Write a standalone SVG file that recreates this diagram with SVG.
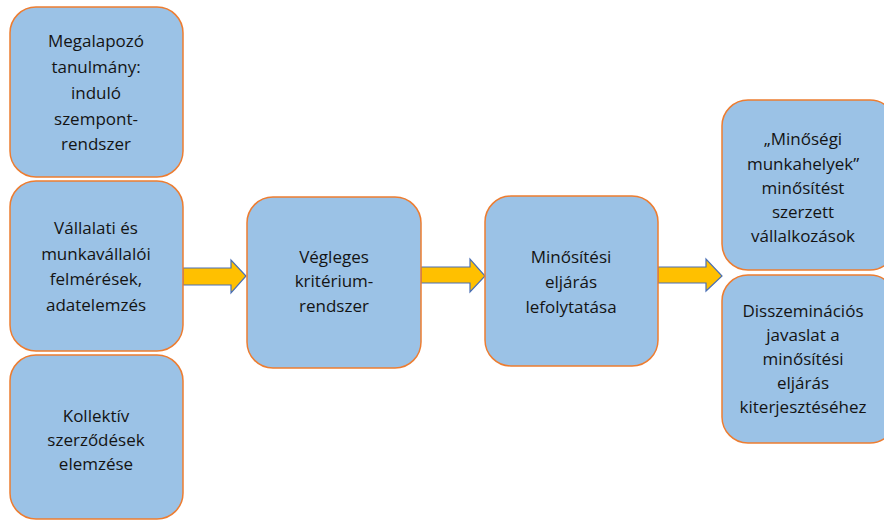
<svg xmlns="http://www.w3.org/2000/svg" width="884" height="521" viewBox="0 0 884 521">
<style>
.box{fill:#9BC2E6;stroke:#ED7D31;stroke-width:1.5}
.arr{fill:#FFC000;stroke:#4A6FB5;stroke-width:1.2;stroke-linejoin:miter}
text{font-family:"Open Sans","Noto Sans",sans-serif;font-size:17px;fill:#141414;text-anchor:middle}
</style>
<rect width="884" height="521" fill="#ffffff"/>
<g id="connectors">
<polygon class="arr" points="183,268 231,268 231,260 246,276 231,293 231,285 183,285"/>
<polygon class="arr" points="421,267 470,267 470,259 485,276 470,292 470,283 421,283"/>
<polygon class="arr" points="658,267 706,267 706,259 722,276 706,291 706,283 658,283"/>
</g>
<g id="n1">
<rect class="box" x="10" y="7" width="173" height="170" rx="26"/>
<text x="96" y="47">Megalapozó</text>
<text x="96" y="73">tanulmány:</text>
<text x="96" y="99">induló</text>
<text x="96" y="125">szempont-</text>
<text x="96" y="150">rendszer</text>
</g>
<g id="n2">
<rect class="box" x="10" y="181" width="173" height="170" rx="26"/>
<text x="96" y="234">Vállalati és</text>
<text x="96" y="260">munkavállalói</text>
<text x="96" y="285">felmérések,</text>
<text x="96" y="311">adatelemzés</text>
</g>
<g id="n3">
<rect class="box" x="10" y="355" width="173" height="164" rx="26"/>
<text x="96" y="422">Kollektív</text>
<text x="96" y="446">szerződések</text>
<text x="96" y="470">elemzése</text>
</g>
<g id="n4">
<rect class="box" x="247" y="197" width="174" height="171" rx="26"/>
<text x="334" y="263">Végleges</text>
<text x="334" y="287">kritérium-</text>
<text x="334" y="312">rendszer</text>
</g>
<g id="n5">
<rect class="box" x="485" y="196" width="173" height="170" rx="26"/>
<text x="571" y="263">Minősítési</text>
<text x="571" y="288">eljárás</text>
<text x="571" y="313">lefolytatása</text>
</g>
<g id="n6">
<rect class="box" x="722" y="100" width="174" height="170" rx="26"/>
<text x="803" y="145">„Minőségi</text>
<text x="803" y="170">munkahelyek”</text>
<text x="803" y="194">minősítést</text>
<text x="803" y="218">szerzett</text>
<text x="803" y="242">vállalkozások</text>
</g>
<g id="n7">
<rect class="box" x="722" y="275" width="174" height="168" rx="26"/>
<text x="803" y="317">Disszeminációs</text>
<text x="803" y="341">javaslat a</text>
<text x="803" y="365">minősítési</text>
<text x="803" y="389">eljárás</text>
<text x="803" y="413">kiterjesztéséhez</text>
</g>
</svg>
